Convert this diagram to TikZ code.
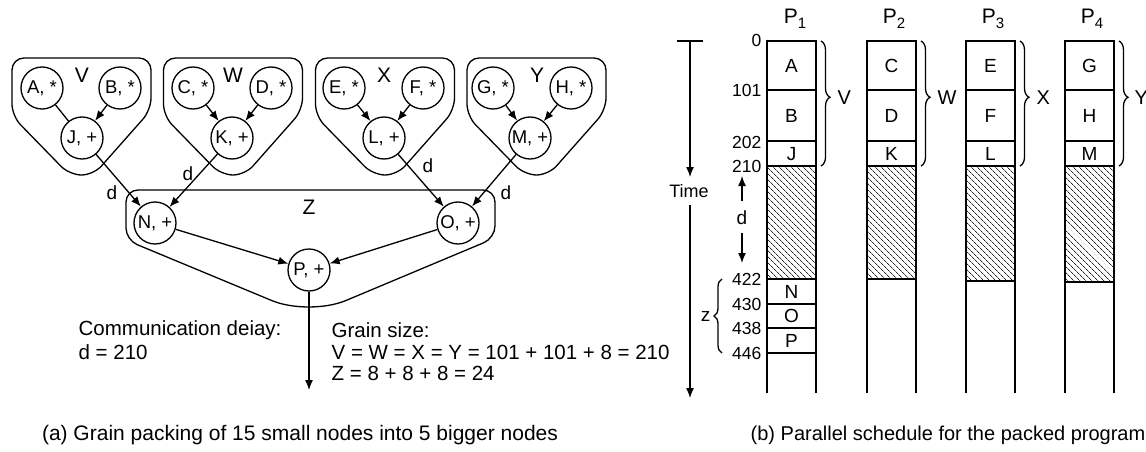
\documentclass[tikz,border=0pt]{standalone}
\usepackage{fontspec}
\setmainfont{Liberation Sans}
\usetikzlibrary{arrows.meta,patterns,patterns.meta,decorations.pathreplacing}
\newcommand{\fs}[1]{\fontsize{#1}{#1}\selectfont}
\newcommand{\Psub}[1]{P\raisebox{-0.45ex}{\fs{15}#1}}
\begin{document}
\begin{tikzpicture}[x=1pt,y=-1pt,line width=1.3pt,
  vnode/.style={circle,draw,line width=1.3pt,minimum size=42pt,inner sep=0pt,font=\fs{18.5}},
  grp/.style={draw,line width=1.3pt,rounded corners=12pt},
  arr/.style={-{Latex[length=10pt,width=8pt]},line width=1.3pt},
  plainline/.style={line width=1.3pt},
  glab/.style={font=\fs{21},inner sep=0pt},
  dlab/.style={font=\fs{19},inner sep=0pt},
  txt/.style={font=\fs{20.5},inner sep=0pt,anchor=base west},
  captxt/.style={font=\fs{20},inner sep=0pt,anchor=base},
  numlab/.style={font=\fs{17.5},inner sep=0pt,anchor=east},
  cell/.style={font=\fs{19},inner sep=0pt},
  brlab/.style={font=\fs{20},inner sep=0pt,anchor=west},
  brc/.style={decorate,decoration={brace,amplitude=9pt,aspect=0.45},line width=1.3pt},
  hatchfill/.style={pattern={Lines[angle=-45,distance=4pt,line width=0.7pt]},pattern color=black!85}
]
\useasboundingbox (0,0) rectangle (1146,452);

% ---------- (a) grain packing ----------
\foreach \cx in {81.5,233,385,536.5}
  \draw[grp] (\cx-69.5,58) -- (\cx+69.5,58) -- (\cx+69.5,110) -- (\cx+12,175) -- (\cx-12,175) -- (\cx-69.5,116) -- cycle;

\node[vnode] (A) at (42,88) {A, *};
\node[vnode] (B) at (120,88) {B, *};
\node[vnode] (J) at (82,138) {J, +};
\node[glab] (lV) at (82,75) {V};

\node[vnode] (C) at (193,88) {C, *};
\node[vnode] (D) at (271,88) {D, *};
\node[vnode] (K) at (232,138) {K, +};
\node[glab] (lW) at (233,75) {W};

\node[vnode] (E) at (344,88) {E, *};
\node[vnode] (F) at (423,88) {F, *};
\node[vnode] (L) at (384,138) {L, +};
\node[glab] (lX) at (384,75) {X};

\node[vnode] (G) at (493,88) {G, *};
\node[vnode] (H) at (571,88) {H, *};
\node[vnode] (M) at (530,138) {M, +};
\node[glab] (lY) at (537,75) {Y};

\draw[grp] (126,190) -- (495,190) -- (495,238) [rounded corners=40pt] -- (309,316) [rounded corners=12pt] -- (126,240) -- cycle;
\node[glab] (lZ) at (309,207) {Z};

\node[vnode] (N) at (155,223) {N, +};
\node[vnode] (O) at (458,223) {O, +};
\node[vnode] (P) at (309,270) {P, +};
\coordinate (out) at (309,390);

\draw[plainline] (A) -- (J);
\draw[arr] (B) -- (J);
\draw[arr] (C) -- (K);
\draw[arr] (D) -- (K);
\draw[arr] (E) -- (L);
\draw[arr] (F) -- (L);
\draw[arr] (G) -- (M);
\draw[arr] (H) -- (M);
\draw[arr] (J) -- (N);
\draw[arr] (K) -- (N);
\draw[arr] (L) -- (O);
\draw[arr] (M) -- (O);
\draw[arr] (N) -- (P);
\draw[arr] (O) -- (P);
\draw[arr] (P) -- (out);

\node[dlab] (d1) at (112,193) {d};
\node[dlab] (d2) at (188,174) {d};
\node[dlab] (d3) at (428,166) {d};
\node[dlab] (d4) at (506,193) {d};

\node[txt] (t1) at (78,335) {Communication deiay:};
\node[txt] (t2) at (78,359) {d = 210};
\node[txt] (t3) at (331,337) {Grain size:};
\node[txt] (t4) at (331,359) {V = W = X = Y = 101 + 101 + 8 = 210};
\node[txt] (t5) at (331,380) {Z = 8 + 8 + 8 = 24};

\node[captxt,font=\fs{21}] (capa) at (300,440) {(a) Grain packing of 15 small nodes into 5 bigger nodes};

% ---------- (b) schedule ----------
\coordinate (tb1) at (677,41);
\coordinate (tb2) at (703,41);
\coordinate (tt) at (690,41);
\coordinate (ta) at (690,177);
\coordinate (tc) at (690,205);
\coordinate (td) at (690,398);
\draw[plainline] (tb1) -- (tb2);
\draw[arr] (tt) -- (ta);
\node[font=\fs{18},inner sep=0pt] (time) at (689,191) {Time};
\draw[arr] (tc) -- (td);

\foreach \x/\hb in {767/279,867/279,966/281,1065/282} {
  \fill[hatchfill] (\x,166) rectangle (\x+49,\hb);
  \draw (\x,393) -- (\x,41) -- (\x+49,41) -- (\x+49,393);
  \draw (\x,90) -- (\x+49,90);
  \draw (\x,141) -- (\x+49,141);
  \draw (\x,166) -- (\x+49,166);
  \draw (\x,\hb) -- (\x+49,\hb);
}
\draw (767,304) -- (816,304);
\draw (767,328) -- (816,328);
\draw (767,353) -- (816,353);

\node[font=\fs{21},inner sep=0pt] (p1) at (795,19) {\Psub{1}};
\node[font=\fs{21},inner sep=0pt] (p2) at (894,19) {\Psub{2}};
\node[font=\fs{21},inner sep=0pt] (p3) at (993,19) {\Psub{3}};
\node[font=\fs{21},inner sep=0pt] (p4) at (1092,19) {\Psub{4}};

\node[cell] (cA) at (791.5,66) {A};
\node[cell] (cB) at (791.5,116) {B};
\node[cell] (cJ) at (791.5,154) {J};
\node[cell] (cC) at (891.5,66) {C};
\node[cell] (cD) at (891.5,116) {D};
\node[cell] (cK) at (891.5,154) {K};
\node[cell] (cE) at (990.5,66) {E};
\node[cell] (cF) at (990.5,116) {F};
\node[cell] (cL) at (990.5,154) {L};
\node[cell] (cG) at (1089.5,66) {G};
\node[cell] (cH) at (1089.5,116) {H};
\node[cell] (cM) at (1089.5,154) {M};
\node[cell] (cN) at (791.5,292) {N};
\node[cell] (cO) at (791.5,316) {O};
\node[cell] (cP) at (791.5,341) {P};

\node[numlab] (n0) at (762,40) {0};
\node[numlab] (n101) at (762,90) {101};
\node[numlab] (n202) at (762,142) {202};
\node[numlab] (n210) at (762,166) {210};
\node[numlab] (n422) at (762,279) {422};
\node[numlab] (n430) at (762,304) {430};
\node[numlab] (n438) at (762,328) {438};
\node[numlab] (n446) at (762,353) {446};

\draw[brc] (821,41) -- (821,166);
\node[brlab] (bV) at (837,98) {V};
\draw[brc] (921,41) -- (921,166);
\node[brlab] (bW) at (937,98) {W};
\draw[brc] (1020,41) -- (1020,166);
\node[brlab] (bX) at (1036,98) {X};
\draw[brc] (1119,41) -- (1119,166);
\node[brlab] (bY) at (1134,98) {Y};

\coordinate (du1) at (742,201);
\coordinate (du2) at (742,176);
\coordinate (dd1) at (742,233);
\coordinate (dd2) at (742,263);
\draw[arr] (du1) -- (du2);
\node[font=\fs{19},inner sep=0pt] (dl) at (742,218) {d};
\draw[arr] (dd1) -- (dd2);

\draw[decorate,decoration={brace,amplitude=8pt},line width=1.3pt] (722,353) -- (722,279);
\node[font=\fs{19},inner sep=0pt,anchor=east] (zl) at (711,316) {z};

\node[captxt] (capb) at (948,440) {(b) Parallel schedule for the packed program};
\end{tikzpicture}
\end{document}
